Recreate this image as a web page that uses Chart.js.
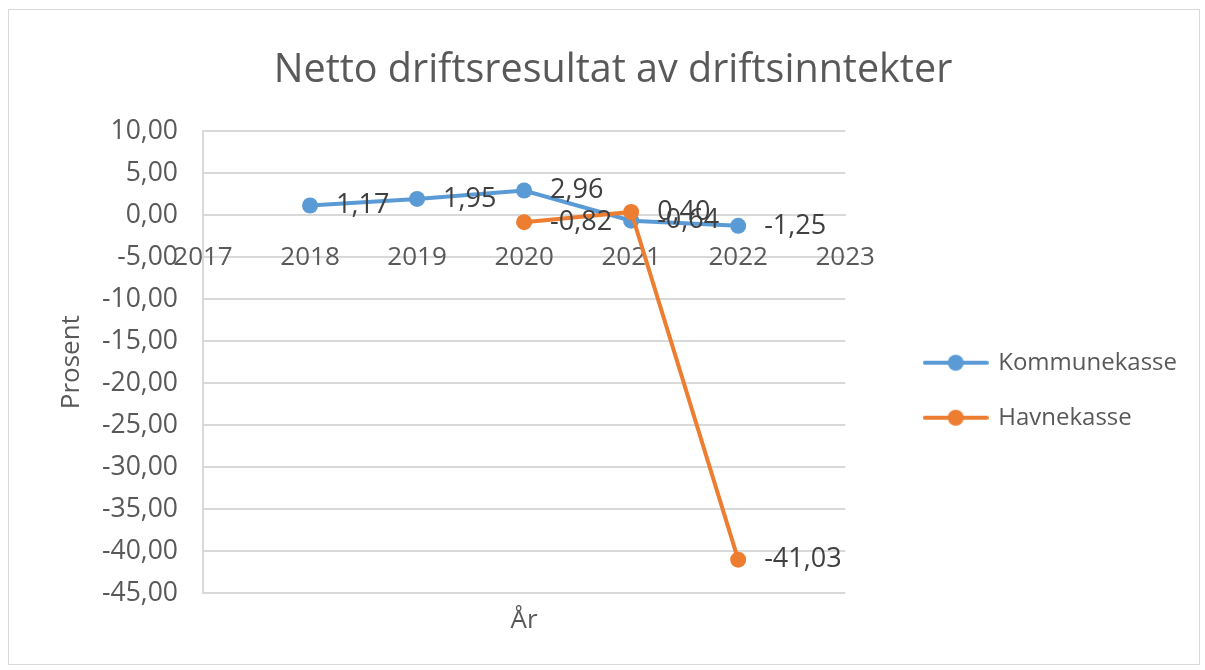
<!DOCTYPE html>
<html>
<head>
<meta charset="utf-8">
<script src="https://cdn.jsdelivr.net/npm/chart.js@4/dist/chart.umd.min.js"></script>
<style>
  html, body { margin: 0; padding: 0; background: #fff; }
  #frame { position: absolute; left: 8px; top: 9px; width: 1190px; height: 654px; border: 1px solid #d9d9d9; }
  #chart { display: block; }
</style>
</head>
<body>
<div id="frame"><canvas id="chart" width="1190" height="654"></canvas></div>
<script>
const years = [2018, 2019, 2020, 2021, 2022];
const kommunekasse = [1.17, 1.95, 2.96, -0.64, -1.25];
const havnekasse = [null, null, -0.82, 0.40, -41.03];
const seriesNames = ['Kommunekasse', 'Havnekasse'];
const seriesColors = ['#5b9bd5', '#ed7d31'];

const TEXT = '#595959';
const GRID = '#d9d9d9';

Chart.defaults.font.family = "'Open Sans', sans-serif";
Chart.defaults.color = TEXT;

function toPoints(values) {
  return years
    .map((year, i) => ({ x: year, y: values[i] }))
    .filter((p) => p.y !== null);
}

function comma(v) {
  return Number(v).toFixed(2).replace('.', ',');
}

// legend marker: short line with a dot, like the Excel legend
function legendMarker(color) {
  const c = document.createElement('canvas');
  c.width = 66;
  c.height = 18;
  const ctx = c.getContext('2d');
  ctx.strokeStyle = color;
  ctx.lineWidth = 4;
  ctx.lineCap = 'round';
  ctx.beginPath();
  ctx.moveTo(2, 9);
  ctx.lineTo(64, 9);
  ctx.stroke();
  ctx.fillStyle = color;
  ctx.beginPath();
  ctx.arc(33, 9, 8, 0, Math.PI * 2);
  ctx.fill();
  return c;
}

const valueLabels = {
  id: 'valueLabels',
  afterDatasetsDraw(chart) {
    const ctx = chart.ctx;
    ctx.save();
    ctx.font = "27px 'Open Sans', sans-serif";
    ctx.fillStyle = '#404040';
    ctx.textAlign = 'left';
    ctx.textBaseline = 'middle';
    chart.data.datasets.forEach((ds, di) => {
      const meta = chart.getDatasetMeta(di);
      meta.data.forEach((pt, i) => {
        ctx.fillText(comma(ds.data[i].y), pt.x + 26, pt.y);
      });
    });
    ctx.restore();
  },
};

new Chart(document.getElementById('chart'), {
  type: 'line',
  data: {
    datasets: [
      {
        label: seriesNames[0],
        data: toPoints(kommunekasse),
        borderColor: seriesColors[0],
        backgroundColor: seriesColors[0],
        borderWidth: 4,
        pointRadius: 8,
        pointHoverRadius: 8,
        pointBorderWidth: 0,
        order: 1,
      },
      {
        label: seriesNames[1],
        data: toPoints(havnekasse),
        borderColor: seriesColors[1],
        backgroundColor: seriesColors[1],
        borderWidth: 4,
        pointRadius: 8,
        pointHoverRadius: 8,
        pointBorderWidth: 0,
        order: 0,
      },
    ],
  },
  options: {
    responsive: false,
    animation: false,
    layout: { padding: { left: 30, right: 12, top: 0, bottom: 0 } },
    plugins: {
      title: {
        display: true,
        text: 'Netto driftsresultat av driftsinntekter',
        color: TEXT,
        font: { size: 39.5, weight: 'normal' },
        padding: { top: 37, bottom: 37 },
      },
      legend: {
        position: 'right',
        fullSize: false,
        maxWidth: 400,
        title: { display: true, text: ' ', font: { size: 10, lineHeight: 1 }, padding: { top: 46, bottom: 0 } },
        labels: {
          usePointStyle: true,
          pointStyleWidth: 61,
          padding: 31,
          color: TEXT,
          font: { size: 24 },
          sort: (a, b) => a.datasetIndex - b.datasetIndex,
          generateLabels(chart) {
            return chart.data.datasets.map((ds, i) => ({
              text: ds.label,
              datasetIndex: i,
              pointStyle: legendMarker(seriesColors[i]),
              fillStyle: seriesColors[i],
              strokeStyle: seriesColors[i],
              lineWidth: 0,
              fontColor: TEXT,
              hidden: false,
            }));
          },
        },
      },
      tooltip: { enabled: false },
    },
    scales: {
      x: {
        type: 'linear',
        position: { y: 0 },
        min: 2017,
        max: 2023,
        ticks: {
          stepSize: 1,
          padding: 27,
          color: TEXT,
          font: { size: 26 },
          maxRotation: 0,
          callback: (v) => String(v),
        },
        grid: { display: false, drawTicks: false },
        border: { display: true, color: GRID, width: 2 },
      },
      x2: {
        type: 'linear',
        position: 'bottom',
        min: 2017,
        max: 2023,
        ticks: { display: false },
        grid: { display: false, drawTicks: false },
        border: { display: false },
        title: { display: true, text: 'År', color: TEXT, font: { size: 26 }, padding: { top: 0, bottom: 28 } },
        afterFit(scale) { scale.height = 71; },
      },
      y: {
        type: 'linear',
        position: 'left',
        min: -45,
        max: 10,
        ticks: {
          stepSize: 5,
          padding: 25,
          color: TEXT,
          font: { size: 26.5 },
          callback: (v) => comma(v),
        },
        grid: { color: GRID, lineWidth: 2, drawTicks: false },
        border: { display: true, color: GRID, width: 2 },
        title: { display: true, text: 'Prosent', color: TEXT, font: { size: 26 }, padding: { top: 17, bottom: 0 } },
        afterFit(scale) { scale.width = 164; },
      },
      y2: {
        type: 'linear',
        position: 'right',
        min: -45,
        max: 10,
        ticks: { display: false },
        grid: { display: false, drawTicks: false },
        border: { display: false },
        afterFit(scale) { scale.width = 49; },
      },
    },
  },
  plugins: [valueLabels],
});
</script>
</body>
</html>
